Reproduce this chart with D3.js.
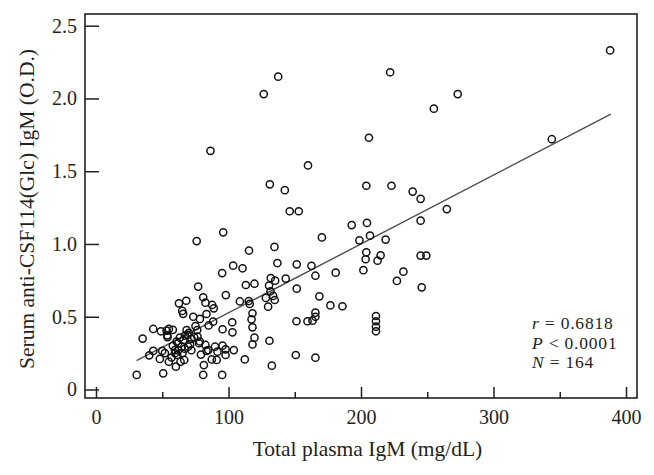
<!DOCTYPE html>
<html>
<head>
<meta charset="utf-8">
<script src="https://cdn.jsdelivr.net/npm/d3@7"></script>
<style>
  html, body { margin: 0; padding: 0; background: #ffffff; }
  svg { display: block; }
  text { font-family: "Liberation Serif", "DejaVu Serif", serif; fill: #231f20; }
</style>
</head>
<body>
<svg id="chart" width="654" height="475"></svg>
<script>
// ---- data ----
const igmTotal = [
  388, 222, 137.5, 126.6, 273, 255, 206, 344, 86.4, 160,
  131.2, 204, 223, 142.5, 239, 245, 264.8, 146.2, 153, 245,
  204.5, 193, 96, 206.8, 170.5, 218.6, 76, 198.8,
  134.7, 115.5, 204, 214.8, 245, 249.3, 203.5, 212.5, 136.9, 151.5,
  162.6, 103.5, 110.6, 201.8, 232, 180.9, 95.2, 165.6, 131.9, 143.2,
  135.2, 227.1, 119.6, 113.1, 130.6, 77.1, 245.8, 151.5, 131.7, 98,
  133.7, 168.6, 80.9, 128.2, 134.9, 115.3, 68.1, 62.6, 82.6, 87.7,
  116, 176.9, 186, 129.9, 88.9, 65.1, 65.8, 118.1, 165.6, 83.4,
  211.3, 165.6, 73.4, 78.4, 117.4, 163.4, 159.6, 151.3, 211.3, 88.4,
  102.8, 75.1, 211.3, 118.1, 43.2, 95.5, 55, 53.3, 76.4, 68.4,
  49, 211.3, 103, 69.1, 53.8, 67.1, 76.6, 54, 63.3, 119.6,
  35.2, 72.1, 130.9, 60.8, 77.8, 62, 118.1, 82.6, 95.5, 69.6,
  64.6, 89.8, 97.8, 104, 84.7, 59.6, 43.2, 50, 91.7, 65.3,
  59.6, 150.8, 40.2, 61.3, 97.8, 165.6, 48.2, 112.3, 87.4, 91.1,
  66.6, 55, 63.8, 81.4, 132.7, 60.3, 30.7, 50.7, 80.9, 95.2,
  108.6, 79.2, 83.4, 78.4, 58, 67, 71, 57, 66, 72,
  62, 74, 58, 52, 70, 85
];
const antiCsf = [
  2.33, 2.18, 2.15, 2.03, 2.03, 1.93, 1.73, 1.72, 1.64, 1.54,
  1.41, 1.40, 1.40, 1.37, 1.36, 1.31, 1.24, 1.225, 1.225, 1.16,
  1.145, 1.13, 1.08, 1.057, 1.045, 1.03, 1.02, 1.025,
  0.98, 0.955, 0.943, 0.922, 0.92, 0.92, 0.895, 0.885, 0.869, 0.86,
  0.85, 0.851, 0.833, 0.82, 0.81, 0.803, 0.80, 0.782, 0.766, 0.762,
  0.748, 0.746, 0.727, 0.718, 0.714, 0.707, 0.702, 0.693, 0.675, 0.649,
  0.643, 0.64, 0.634, 0.629, 0.615, 0.608, 0.61, 0.592, 0.597, 0.581,
  0.588, 0.578, 0.572, 0.569, 0.558, 0.54, 0.52, 0.524, 0.528, 0.519,
  0.505, 0.50, 0.50, 0.485, 0.482, 0.473, 0.469, 0.469, 0.469, 0.466,
  0.462, 0.436, 0.432, 0.427, 0.416, 0.414, 0.416, 0.405, 0.409, 0.409,
  0.40, 0.40, 0.393, 0.375, 0.372, 0.37, 0.363, 0.36, 0.356, 0.356,
  0.35, 0.347, 0.335, 0.33, 0.318, 0.318, 0.31, 0.306, 0.301, 0.294,
  0.294, 0.294, 0.276, 0.271, 0.271, 0.271, 0.265, 0.265, 0.26, 0.249,
  0.249, 0.237, 0.235, 0.237, 0.237, 0.219, 0.21, 0.207, 0.207, 0.203,
  0.203, 0.191, 0.191, 0.168, 0.164, 0.157, 0.10, 0.111, 0.10, 0.10,
  0.605, 0.24, 0.265, 0.33, 0.41, 0.28, 0.31, 0.22, 0.34, 0.27,
  0.27, 0.36, 0.30, 0.25, 0.39, 0.44
];
const fitX = [30.6, 388.6];
const fitY = [0.198, 1.893];
const xTicks = [0, 100, 200, 300, 400];
const xMinorTicks = [50, 150, 250, 350];
const yTicks = [0, 0.5, 1.0, 1.5, 2.0, 2.5];
const yTickLabels = ["0", "0.5", "1.0", "1.5", "2.0", "2.5"];
const xTitle = "Total plasma IgM (mg/dL)";
const yTitle = "Serum anti-CSF114(Glc) IgM (O.D.)";
const stats = [
  { sym: "r", rest: " = 0.6818" },
  { sym: "P", rest: " < 0.0001" },
  { sym: "N", rest: " = 164" }
];

// ---- layout ----
const frame = { left: 85, right: 637, top: 14, bottom: 398 };
const svg = d3.select("#chart");

const x = d3.scaleLinear().domain([-8.3, 408.3]).range([frame.left, frame.right]);
const y = d3.scaleLinear().domain([-0.0584, 2.5804]).range([frame.bottom, frame.top]);

const ink = "#231f20";

// frame
svg.append("rect")
  .attr("x", frame.left).attr("y", frame.top)
  .attr("width", frame.right - frame.left).attr("height", frame.bottom - frame.top)
  .attr("fill", "none").attr("stroke", ink).attr("stroke-width", 1.6);

// x axis (ticks pointing inward)
const xAxis = d3.axisBottom(x).tickValues(xTicks).tickSize(-11).tickPadding(26).tickFormat(d3.format("d"));
const gx = svg.append("g").attr("transform", `translate(0,${frame.bottom})`).call(xAxis);
gx.select(".domain").remove();
gx.selectAll(".tick line").attr("stroke", ink).attr("stroke-width", 1.5);
gx.selectAll(".tick text").attr("font-size", 20).attr("fill", ink).attr("dy", 0)
  .style("font-family", '"Liberation Serif", serif');

const xMinor = d3.axisBottom(x).tickValues(xMinorTicks).tickSize(-6).tickFormat("");
const gxm = svg.append("g").attr("transform", `translate(0,${frame.bottom})`).call(xMinor);
gxm.select(".domain").remove();
gxm.selectAll(".tick line").attr("stroke", ink).attr("stroke-width", 1.5);

// y axis
const yAxis = d3.axisLeft(y).tickValues(yTicks).tickSize(-14).tickPadding(8)
  .tickFormat((d, i) => yTickLabels[i]);
const gy = svg.append("g").attr("transform", `translate(${frame.left},0)`).call(yAxis);
gy.select(".domain").remove();
gy.selectAll(".tick line").attr("stroke", ink).attr("stroke-width", 1.5);
gy.selectAll(".tick text").attr("font-size", 20).attr("fill", ink)
  .style("font-family", '"Liberation Serif", serif');

// regression line
const fit = fitX.map((v, i) => [v, fitY[i]]);
svg.append("path")
  .datum(fit)
  .attr("d", d3.line().x(d => x(d[0])).y(d => y(d[1])))
  .attr("fill", "none").attr("stroke", "#4d4d4d").attr("stroke-width", 1.4);

// points
const pts = igmTotal.map((v, i) => ({ x: v, y: antiCsf[i] }));
svg.append("g").selectAll("circle").data(pts).join("circle")
  .attr("cx", d => x(d.x)).attr("cy", d => y(d.y)).attr("r", 3.6)
  .attr("fill", "none").attr("stroke", "#111").attr("stroke-width", 1.5);

// axis titles
svg.append("text")
  .attr("x", 367.5).attr("y", 456)
  .attr("text-anchor", "middle").attr("font-size", 21.5).text(xTitle);

svg.append("text")
  .attr("transform", `translate(33.5,209) rotate(-90)`)
  .attr("text-anchor", "middle").attr("font-size", 21.5).text(yTitle);

// stats annotation
stats.forEach((s, i) => {
  const t = svg.append("text").attr("x", 532).attr("y", 329 + i * 19.6)
    .attr("font-size", 17.5).attr("letter-spacing", 0.8);
  t.append("tspan").attr("font-style", "italic").text(s.sym);
  t.append("tspan").text(s.rest);
});
</script>
</body>
</html>
